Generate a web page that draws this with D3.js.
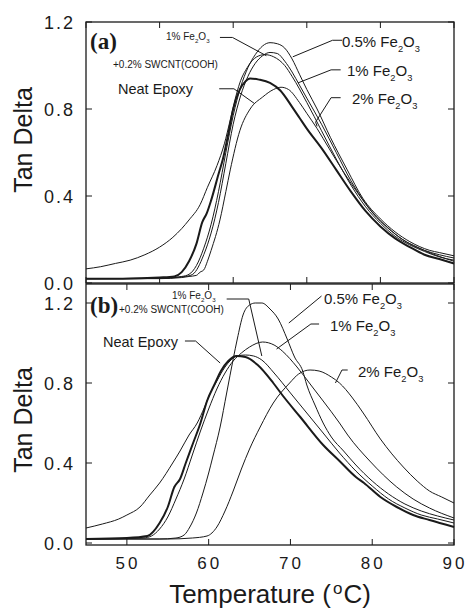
<!DOCTYPE html>
<html><head><meta charset="utf-8">
<script src="https://cdn.jsdelivr.net/npm/d3@7"></script>
<style>body{margin:0;background:#fff}</style>
</head><body>
<svg id="c" width="467" height="609"></svg>
<script>
// ---------- data (temperature °C, tan delta) ----------
const xTicksA = [40, 50, 60, 70, 80, 90];
const xTicksB = [50, 60, 70, 80, 90];
const xTickLabels = ["50", "60", "70", "80", "90"];
const yTicks = [0, 0.4, 0.8, 1.2];
const yTickLabels = ["0.0", "0.4", "0.8", "1.2"];

// panel (a)
const neatA = [[40,0.02],[45,0.02],[50,0.025],[52,0.03],[53,0.05],[54,0.1],[55,0.18],[55.8,0.28],[56.4,0.32],[57,0.38],[58,0.5],[58.6,0.57],[59.3,0.68],[60,0.8],[60.9,0.89],[61.6,0.925],[62.3,0.94],[63.5,0.935],[65,0.92],[66.4,0.885],[68,0.81],[69,0.76],[70,0.71],[72,0.62],[74,0.52],[76,0.42],[78,0.33],[80,0.26],[82,0.205],[84,0.165],[86,0.13],[88,0.11],[90,0.09]];
const fe05A = [[40,0.02],[50,0.022],[53,0.03],[54,0.04],[55,0.08],[56,0.16],[57,0.27],[58,0.42],[59,0.6],[60,0.77],[61,0.9],[62,0.99],[63,1.05],[64,1.09],[65,1.105],[66,1.1],[67,1.08],[68,1.03],[69,0.96],[70,0.89],[71.4,0.8],[73.2,0.67],[75.5,0.52],[77.6,0.39],[80,0.295],[82,0.235],[84,0.19],[86.7,0.15],[88,0.14],[90,0.125]];
const fe1A = [[40,0.02],[50,0.022],[53.5,0.03],[54.5,0.04],[56,0.13],[57,0.23],[58,0.37],[59,0.55],[60,0.73],[61,0.86],[62,0.95],[63,1.01],[64,1.045],[65,1.06],[66,1.055],[67,1.02],[68,0.97],[69,0.91],[70,0.85],[72,0.73],[74,0.6],[76,0.47],[78,0.365],[80,0.285],[82,0.225],[84,0.18],[86,0.15],[88,0.13],[90,0.115]];
const fe2A = [[40,0.02],[50,0.02],[53,0.025],[54,0.03],[55,0.035],[55.5,0.05],[56,0.06],[56.5,0.1],[57,0.15],[58.2,0.29],[59,0.42],[59.6,0.52],[60.9,0.7],[62.3,0.8],[64,0.855],[65.5,0.89],[66.5,0.9],[67.5,0.89],[69,0.83],[70,0.78],[71.4,0.71],[73,0.62],[75,0.51],[77,0.41],[79,0.32],[81,0.255],[83,0.2],[85,0.165],[87,0.135],[90,0.1]];
const swcntA = [[40,0.065],[42,0.075],[44,0.09],[46,0.105],[48,0.13],[50,0.165],[51.8,0.21],[53,0.25],[54,0.29],[55.5,0.36],[56.5,0.44],[57.8,0.54],[58.8,0.64],[59.6,0.75],[60.3,0.85],[60.9,0.92],[61.9,0.99],[63.2,1.04],[64.3,1.05],[65.5,1.04],[67,1.0],[68,0.95],[70,0.83],[72,0.7],[74,0.57],[76,0.45],[78,0.35],[80,0.275],[82,0.215],[84,0.175],[86,0.145],[88,0.12],[90,0.105]];

// panel (b)
const neatB = [[45,0.02],[50,0.025],[52.5,0.035],[54,0.1],[55,0.18],[55.8,0.28],[56.5,0.32],[57.2,0.4],[58.1,0.5],[59,0.6],[59.8,0.71],[60.8,0.8],[61.5,0.86],[62.4,0.91],[63.4,0.935],[64.5,0.93],[66,0.89],[67.9,0.8],[69,0.74],[71.2,0.63],[74,0.49],[76,0.41],[78,0.33],[79,0.3],[81,0.23],[83,0.18],[85,0.14],[87,0.115],[90,0.08]];
const fe05B = [[45,0.02],[54,0.02],[56,0.025],[57,0.04],[57.7,0.08],[58.5,0.15],[59.3,0.25],[60,0.35],[60.5,0.43],[61.4,0.58],[62.2,0.75],[63,0.92],[63.5,1.02],[64.2,1.14],[65,1.19],[65.7,1.2],[66.5,1.2],[67.5,1.17],[68.5,1.12],[69.6,1.02],[70.5,0.93],[71.5,0.86],[72,0.79],[73,0.69],[74,0.6],[75,0.53],[76.5,0.46],[78,0.39],[80,0.31],[82,0.245],[84,0.195],[86,0.16],[88,0.135],[90,0.115]];
const fe1B = [[45,0.02],[52,0.025],[53,0.035],[54,0.07],[55,0.13],[56,0.22],[57,0.32],[58,0.44],[59,0.56],[60,0.67],[61,0.77],[62,0.85],[63,0.91],[64,0.95],[65,0.98],[66.6,1.005],[68,0.99],[69,0.96],[70.8,0.88],[72.5,0.79],[74,0.71],[76,0.6],[77,0.54],[79.7,0.41],[83,0.28],[85,0.22],[87,0.175],[90,0.125]];
const fe2B = [[45,0.02],[55,0.02],[58,0.025],[59.8,0.035],[61,0.08],[62,0.16],[63,0.26],[64,0.37],[65,0.47],[66.3,0.58],[67.9,0.7],[69.9,0.8],[71,0.845],[72.4,0.865],[73.5,0.86],[75,0.83],[76,0.8],[77.5,0.73],[78.9,0.65],[81,0.52],[83.8,0.38],[85.5,0.31],[87,0.26],[88.5,0.23],[90,0.2]];
const swcntB = [[45,0.075],[47,0.095],[49,0.12],[50,0.14],[51.6,0.18],[52.8,0.24],[54,0.3],[55.6,0.4],[56.5,0.46],[57.6,0.54],[58.6,0.6],[59.5,0.68],[60.2,0.75],[61,0.81],[62,0.88],[62.6,0.91],[63.5,0.935],[64.5,0.94],[65.5,0.935],[66.5,0.915],[68,0.85],[70,0.75],[72,0.65],[74,0.55],[76,0.45],[78,0.36],[80,0.285],[82,0.22],[84,0.175],[86,0.14],[88,0.12],[90,0.1]];

// ---------- drawing ----------
const svg = d3.select("#c");
const L = 86, R = 454;
const FONT = "'Liberation Sans', Arial, sans-serif";
const ink = "#1a1a1a";

const panels = [
  {x: d3.scaleLinear().domain([40, 90]).range([L, R]),
   y: d3.scaleLinear().domain([0, 1.2]).range([283, 22]),
   top: 22, bottom: 283, xt: xTicksA,
   series: [[swcntA,1],[fe05A,1],[fe1A,1],[fe2A,1],[neatA,2]]},
  {x: d3.scaleLinear().domain([45, 90]).range([L, R]),
   y: d3.scaleLinear().domain([-0.01, 1.295]).range([545, 284]),
   top: 284, bottom: 545, xt: xTicksB,
   series: [[swcntB,1],[fe05B,1],[fe1B,1],[fe2B,1],[neatB,2]]}
];

panels.forEach((p, i) => {
  const g = svg.append("g");
  const line = d3.line().x(d => p.x(d[0])).y(d => p.y(d[1])).curve(d3.curveMonotoneX);
  p.series.forEach(([data, w]) => {
    g.append("path").attr("d", line(data)).attr("fill", "none")
      .attr("stroke", ink).attr("stroke-width", w === 2 ? 2 : 1);
  });
  // frame
  g.append("rect").attr("x", L).attr("y", p.top).attr("width", R - L).attr("height", p.bottom - p.top)
    .attr("fill", "none").attr("stroke", ink).attr("stroke-width", 1.3);
  // x ticks (inward, top and bottom)
  p.xt.forEach(t => {
    const xx = p.x(t);
    g.append("line").attr("x1", xx).attr("x2", xx).attr("y1", p.bottom).attr("y2", p.bottom - 6).attr("stroke", ink);
    g.append("line").attr("x1", xx).attr("x2", xx).attr("y1", p.top).attr("y2", p.top + 6).attr("stroke", ink);
  });
  // y ticks (inward, left and right)
  yTicks.forEach((t, k) => {
    const yy = p.y(t);
    g.append("line").attr("x1", L).attr("x2", L + 6).attr("y1", yy).attr("y2", yy).attr("stroke", ink);
    g.append("line").attr("x1", R).attr("x2", R - 6).attr("y1", yy).attr("y2", yy).attr("stroke", ink);
    g.append("text").attr("x", 75).attr("y", yy + 6.5).attr("text-anchor", "end")
      .attr("font-family", FONT).attr("font-size", 18).attr("letter-spacing", 2).attr("fill", ink)
      .text(yTickLabels[k]);
  });
  // y title
  g.append("text").attr("transform", `translate(32,${i === 0 ? 140 : 420}) rotate(-90)`)
    .attr("text-anchor", "middle").attr("font-family", FONT).attr("font-size", 25).attr("fill", ink)
    .text("Tan Delta");
});

// x tick labels (bottom panel)
const pB = panels[1];
xTicksB.forEach((t, k) => {
  svg.append("text").attr("x", pB.x(t) + 1).attr("y", 569).attr("text-anchor", "middle")
    .attr("font-family", FONT).attr("font-size", 17).attr("letter-spacing", 3).attr("fill", ink)
    .text(xTickLabels[k]);
});
// x title
const xt = svg.append("text").attr("x", 270).attr("y", 603).attr("text-anchor", "middle")
  .attr("font-family", FONT).attr("font-size", 26).attr("fill", ink);
xt.append("tspan").text("Temperature (");
xt.append("tspan").attr("font-size", 17).attr("dy", -9).attr("dx", 2).text("o");
xt.append("tspan").attr("dy", 9).attr("dx", 1).text("C)");

// ---------- annotations ----------
function feLabel(x, y, prefix, size) {
  const t = svg.append("text").attr("x", x).attr("y", y).attr("font-family", FONT)
    .attr("font-size", size).attr("fill", ink);
  const s = size * 0.62, d = size * 0.3;
  t.append("tspan").text(prefix + "Fe");
  t.append("tspan").attr("font-size", s).attr("dy", d).text("2");
  t.append("tspan").attr("dy", -d).text("O");
  t.append("tspan").attr("font-size", s).attr("dy", d).text("3");
  return t;
}
function plain(x, y, txt, size, fam, weight) {
  return svg.append("text").attr("x", x).attr("y", y).attr("font-family", fam || FONT)
    .attr("font-size", size).attr("font-weight", weight || "normal").attr("fill", ink).text(txt);
}
function leader(pts, p) {
  svg.append("path").attr("d", d3.line().curve(d3.curveLinear)(pts.map(q => [p.x(q[0]), p.y(q[1])])))
    .attr("fill", "none").attr("stroke", ink).attr("stroke-width", 1);
}
const pA = panels[0];
// panel (a)
plain(90, 49, "(a)", 23, "'Liberation Serif', 'Times New Roman', serif", "bold");
feLabel(166, 40, "1% ", 10);
plain(113, 68, "+0.2% SWCNT(COOH)", 10);
plain(118, 94, "Neat Epoxy", 14.5);
feLabel(342, 47, "0.5% ", 15);
feLabel(347, 76, "1% ", 15);
feLabel(352, 104, "2% ", 15);
leader([[58.2,1.129],[59.9,1.129],[64.5,1.045]], pA);
leader([[58.1,0.893],[60.1,0.893],[62.9,0.825]], pA);
leader([[74.8,1.116],[73.5,1.116],[68.1,1.04]], pA);
leader([[74.6,0.98],[73.3,0.98],[68.8,0.92]], pA);
leader([[74.6,0.852],[73.3,0.852],[71.2,0.74],[71.4,0.72]], pA);
// panel (b)
plain(90, 313, "(b)", 23, "'Liberation Serif', 'Times New Roman', serif", "bold");
feLabel(172, 299, "1% ", 10);
plain(119, 313, "+0.2% SWCNT(COOH)", 10);
plain(103, 347, "Neat Epoxy", 14.5);
feLabel(324, 304, "0.5% ", 15);
feLabel(330, 331, "1% ", 15);
feLabel(358, 377, "2% ", 15);
leader([[62.2,1.22],[64.9,1.22],[66.5,0.935]], pB);
leader([[57.1,1.01],[58.4,1.01],[61.4,0.9]], pB);
leader([[73.8,1.235],[69.8,1.1]], pB);
leader([[73.5,1.095],[72.5,1.095],[68.3,0.97]], pB);
leader([[77.0,0.865],[76.3,0.865],[75.5,0.8]], pB);
</script>
</body></html>
